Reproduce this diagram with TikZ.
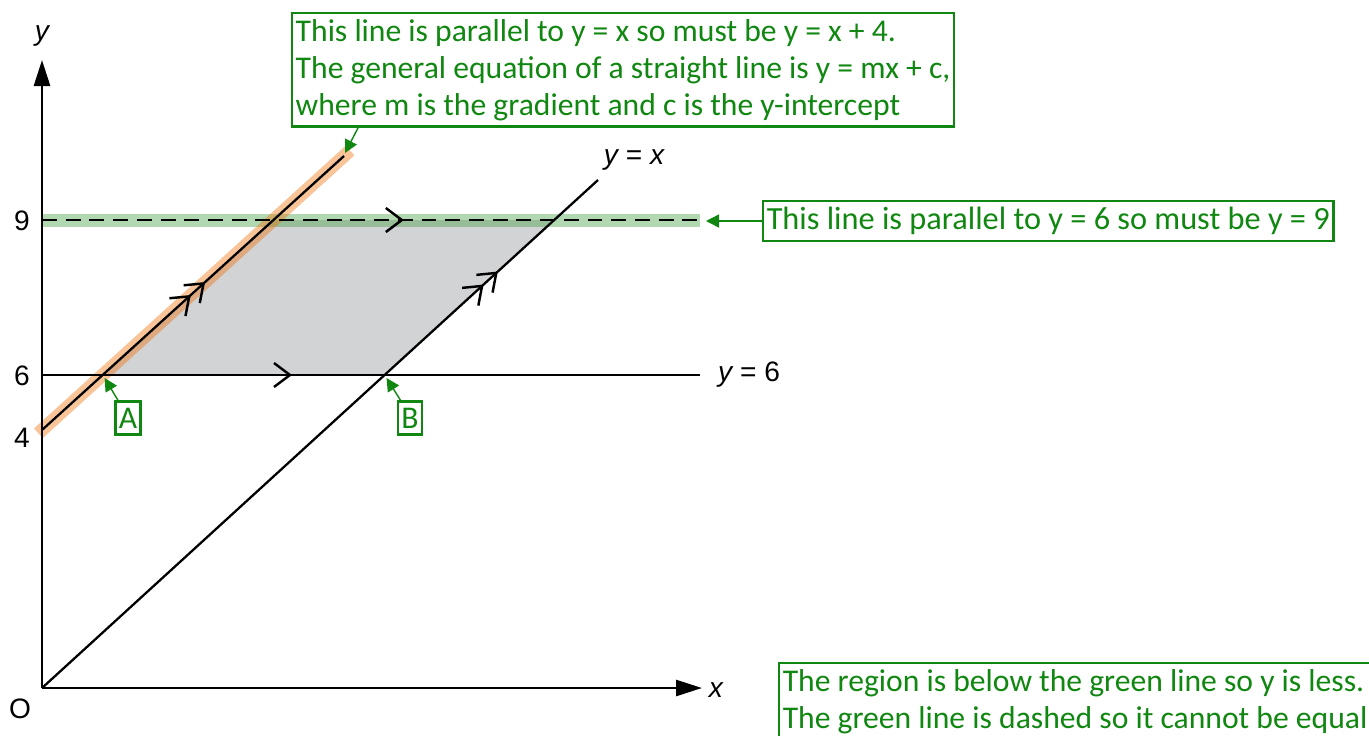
\documentclass[tikz,border=0pt]{standalone}
\usepackage{fontspec}
\setmainfont{Carlito}
\newfontfamily\axisfont{Liberation Sans}
\usetikzlibrary{arrows.meta,calc,decorations.markings}
\definecolor{notegreen}{RGB}{16,135,16}
\definecolor{regiongrey}{RGB}{209,211,212}
\definecolor{bandgreen}{RGB}{62,157,62}
\definecolor{bandorange}{RGB}{242,107,0}
\tikzset{
  axis line/.style={line width=1.5pt,-{Triangle[length=5.2mm,width=3.2mm]}},
  graph line/.style={line width=1.3pt},
  dash line/.style={graph line,dash pattern=on 8.5pt off 5pt},
  green band/.style={bandgreen,opacity=0.4,line width=7.4pt},
  orange band/.style={bandorange,opacity=0.4,line width=7.4pt},
  par mark/.style={postaction=decorate,decoration={markings,
    mark=at position #1 with {\arrow{Straight Barb[length=3.2mm,width=4.8mm,line width=1.4pt]}}}},
  par marks/.style={postaction=decorate,decoration={markings,
    mark=at position #1 with {\arrow{Straight Barb[length=3.2mm,width=4.8mm,line width=1.4pt] Straight Barb[length=3.2mm,width=4.8mm,line width=1.4pt]}}}},
  axis label/.style={font=\axisfont\fontsize{16}{19}\selectfont},
  note box/.style={draw=notegreen,line width=1.4pt,text=notegreen,inner xsep=2pt,inner ysep=3.5pt,
    align=left,font=\fontsize{18}{21}\selectfont},
  note arrow/.style={notegreen,line width=0.8pt,-{Triangle[length=2.6mm,width=2.6mm]}},
}
\begin{document}
\begin{tikzpicture}[x=0.02cm,y=-0.02cm]
  \useasboundingbox (0,0) rectangle (1369,735);
  % end points of the lines
  \coordinate (O) at (42,688);
  \coordinate (yTop) at (42,60);
  \coordinate (xEnd) at (702,688);
  \coordinate (sixL) at (42,375);
  \coordinate (sixR) at (700,375);
  \coordinate (nineL) at (42,220);
  \coordinate (nineR) at (700,220);
  \coordinate (fourL) at (42,430);
  \coordinate (fourR) at (344,156);
  \coordinate (yxEnd) at (598,180);
  \coordinate (A) at (intersection of fourL--fourR and sixL--sixR);
  \coordinate (B) at (intersection of O--yxEnd and sixL--sixR);
  \coordinate (C) at (intersection of fourL--fourR and nineL--nineR);
  \coordinate (D) at (intersection of O--yxEnd and nineL--nineR);
  % region
  \fill[regiongrey] (A)--(B)--(D)--(C)--cycle;
  \draw[green band] (nineL)--(nineR);
  \draw[orange band] ($(fourL)!-0.012!(fourR)$)--($(fourR)!-0.02!(fourL)$);
  % lines
  \draw[graph line,par mark=0.38] (sixL)--(sixR);
  \draw[dash line,par mark=0.55] (nineL)--(nineR);
  \draw[graph line,par marks=0.54] (fourL)--(fourR);
  \draw[graph line,par marks=0.82] (O)--(yxEnd);
  \draw[axis line] (O)--(yTop);
  \draw[axis line] (O)--(xEnd);
  % axis labels
  \node[axis label] (yLab) at (42,36) {\itshape y};
  \node[axis label] (xLab) at (716,690) {\itshape x};
  \node[axis label] (oLab) at (20,709) {O};
  \node[axis label] (nineLab) at (22,221) {9};
  \node[axis label] (sixLab) at (22,376) {6};
  \node[axis label] (fourLab) at (22,438) {4};
  \node[axis label] (yxLab) at (634,160) {\itshape y\upshape{} = \itshape x};
  \node[axis label,anchor=west] (ysixLab) at (712,375) {\itshape y\upshape{} = 6};
  % notes
  \node[note box,anchor=north west] (noteTop) at (291,12)
    {This line is parallel to y = x so must be y = x + 4.\\
     The general equation of a straight line is y = mx + c,\\
     where m is the gradient and c is the y-intercept};
  \node[note box,anchor=west,font=\fontsize{18.4}{21}\selectfont] (noteRight) at (762,221)
    {This line is parallel to y = 6 so must be y = 9};
  \node[note box,anchor=north west] (noteBottom) at (778,662)
    {The region is below the green line so y is less.\\
     The green line is dashed so it cannot be equal\\ };
  \node[note box] (labA) at (128,418) {A};
  \node[note box] (labB) at (410,418) {B};
  \coordinate (topTip) at (345,153);
  \coordinate (nineTip) at (706,221);
  \draw[note arrow] ($(noteTop.south west)+(67,0)$)--(topTip);
  \draw[note arrow] (noteRight.west)--(nineTip);
  \draw[note arrow] ($(labA.north west)+(4,0)$)--($(A)+(2,3)$);
  \draw[note arrow] ($(labB.north west)+(4,0)$)--($(B)+(2,3)$);
\end{tikzpicture}
\end{document}
